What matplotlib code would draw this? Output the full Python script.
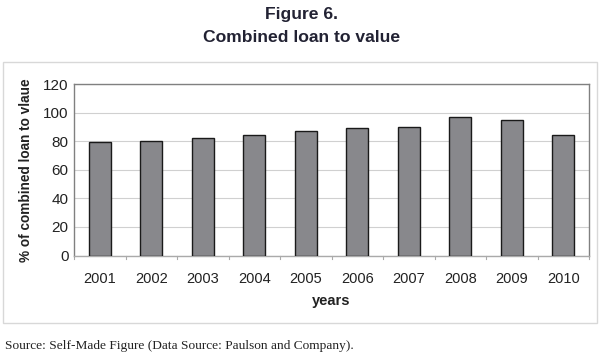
import matplotlib
matplotlib.use("Agg")
import matplotlib.pyplot as plt
from matplotlib.patches import Rectangle

years = ["2001", "2002", "2003", "2004", "2005", "2006", "2007", "2008", "2009", "2010"]
cltv = [79.5, 80.2, 82.3, 84.4, 87.4, 89.1, 89.8, 97.0, 94.7, 84.4]
yticks = [0, 20, 40, 60, 80, 100, 120]

plt.rcParams['font.family'] = ['Liberation Sans', 'DejaVu Sans']

W, H = 603, 354
fig = plt.figure(figsize=(W / 100, H / 100), dpi=100)

# outer chart frame
fig.patches.append(Rectangle((3.5 / W, 1 - 323 / H), 593 / W, 261 / H, transform=fig.transFigure,
                             fill=False, edgecolor='#d8d8d8', linewidth=1.0))

ax = fig.add_axes([74 / W, 1 - 255.5 / H, (589 - 74) / W, (255.5 - 84) / H])
x = range(len(years))
ax.bar(x, cltv, width=0.43, color='#88888c', edgecolor='#1a1a1a', linewidth=1.0, zorder=3)
ax.set_xlim(-0.5, len(years) - 0.5)
ax.set_ylim(0, 120)
ax.set_yticks(yticks)
ax.set_yticklabels([str(v) for v in yticks], fontsize=11, color='#222222')
ax.set_xticks(list(x))
ax.set_xticklabels(years, fontsize=10.5, color='#222222')
ax.tick_params(axis='x', length=0, pad=12)
ax.tick_params(axis='y', length=0, pad=4)
for b in [i + 0.5 for i in range(-1, len(years))]:
    ax.plot([b, b], [0, -2.5], color='#aaaaaa', linewidth=0.8, clip_on=False)
ax.grid(axis='y', color='#d0d0d0', linewidth=0.8, zorder=0)
for s in ax.spines.values():
    s.set_color('#808080')
    s.set_linewidth(1.0)
ax.spines['bottom'].set_color('#aaaaaa')

ax.set_ylabel('% of combined loan to vlaue', fontsize=9.8, fontweight='bold', color='#222222', labelpad=7)
ax.set_xlabel('years', fontsize=10.5, fontweight='bold', color='#222222', labelpad=6)

fig.text(0.5, 1 - 15 / H, 'Figure 6.', ha='center', va='center', fontsize=12.6, fontweight='bold', color='#222233')
fig.text(0.5, 1 - 38 / H, 'Combined loan to value', ha='center', va='center', fontsize=12.6, fontweight='bold', color='#222233')
fig.text(5 / W, 1 - 346 / H, 'Source: Self-Made Figure (Data Source: Paulson and Company).', ha='left', va='center',
         fontsize=9.6, family=['Liberation Serif', 'DejaVu Serif'], color='#222222')

fig.savefig('out.png', dpi=100)
